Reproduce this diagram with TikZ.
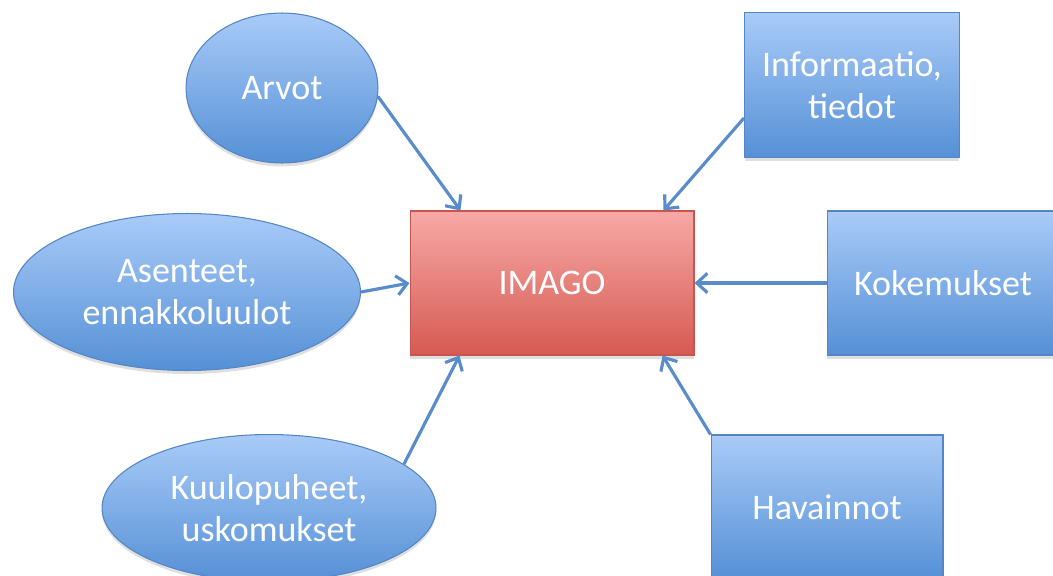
\documentclass[tikz,border=0pt]{standalone}
\usepackage{fontspec}
\setmainfont{Carlito}
\usetikzlibrary{shapes.geometric,arrows.meta,shadows}
\definecolor{bluetop}{HTML}{A9CBF8}
\definecolor{bluebot}{HTML}{5590D6}
\definecolor{blueedge}{HTML}{5585C2}
\definecolor{redtop}{HTML}{F7A9A6}
\definecolor{redbot}{HTML}{D65A52}
\definecolor{rededge}{HTML}{C65650}
\definecolor{arrowblue}{HTML}{5A8CCB}

\begin{document}
\begin{tikzpicture}[x=0.02cm,y=-0.02cm,
  font=\fontsize{20.5}{24}\selectfont,
  base_node/.style={draw=blueedge,line width=0.6pt,top color=bluetop,bottom color=bluebot,
    text=white,align=center,inner sep=0pt,
    drop shadow={shadow xshift=0pt,shadow yshift=-2pt,opacity=0.25}},
  oval_node/.style={base_node,ellipse},
  box_node/.style={base_node,rectangle},
  link/.style={draw=arrowblue,line width=1.8pt,-{Straight Barb[length=6pt,width=11pt]}}]

    \useasboundingbox (0,0) rectangle (1053,575);
    \clip (0,0) rectangle (1053,575);

    \node[oval_node,minimum width=3.84cm,minimum height=3.0cm] (arvot) at (282,88) {Arvot};
    \node[oval_node,minimum width=6.94cm,minimum height=3.14cm] (asenteet) at (187,292) {Asenteet,\\ennakkoluulot};
    \node[oval_node,minimum width=6.68cm,minimum height=2.94cm] (kuulo) at (269,508) {Kuulopuheet,\\uskomukset};
    \node[box_node,minimum width=4.3cm,minimum height=2.9cm] (info) at (852,85) {Informaatio,\\tiedot};
    \node[box_node,minimum width=4.64cm,minimum height=2.88cm] (koke) at (943,283) {Kokemukset};
    \node[box_node,minimum width=4.64cm,minimum height=2.88cm] (hava) at (827,507) {Havainnot};
    \node[box_node,draw=rededge,top color=redtop,bottom color=redbot,minimum width=5.68cm,minimum height=2.88cm] (imago) at (552,283) {IMAGO};

    \draw[link] (arvot.-5) -- ([xshift=1.02cm]imago.north west);
    \draw[link] ([yshift=-0.66cm]info.west) -- ([xshift=-0.62cm]imago.north east);
    \draw[link] (asenteet.east) -- (imago.west);
    \draw[link] (koke.west) -- (imago.east);
    \draw[link] (kuulo.18) -- ([xshift=1.0cm]imago.south west);
    \draw[link] (hava.north west) -- ([xshift=-0.64cm]imago.south east);

\end{tikzpicture}
\end{document}
